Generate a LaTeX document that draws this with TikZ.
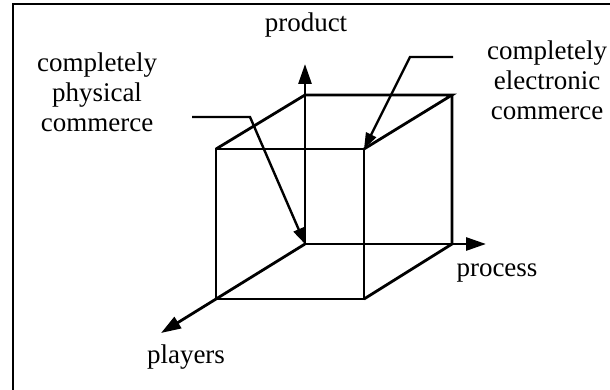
\documentclass[tikz,border=0pt]{standalone}
\usepackage{fontspec}
\setmainfont{Liberation Serif}
\usetikzlibrary{arrows.meta}

\begin{document}
\begin{tikzpicture}[x=0.5pt, y=-0.5pt,
    edge/.style={line width=1.4pt},
    axis/.style={line width=1.4pt, -{Triangle[length=10pt, width=6.5pt]}},
    leader/.style={line width=1.2pt, -{Triangle[length=8pt, width=5.5pt]}},
    lbl/.style={font=\fontsize{13.5}{15}\selectfont, align=center, inner sep=0pt}
]
\useasboundingbox (0,0) rectangle (610,390);
\draw[edge] (13,392) |- (614,4);

% cube corners
\coordinate (o) at (305,244);
\coordinate (bbr) at (452,244);
\coordinate (btl) at (305,95);
\coordinate (btr) at (452,95);
\coordinate (fbl) at (216,299);
\coordinate (fbr) at (364,299);
\coordinate (ftl) at (216,149);
\coordinate (ftr) at (364,149);

% axis ends
\coordinate (prodend) at (305,64);
\coordinate (procend) at (486,244);
\coordinate (playend) at (161,333);

\node[lbl] (product) at (306,25) {product};
\node[lbl] (physical) at (97,92) {completely\\physical\\commerce};
\node[lbl] (electronic) at (547,80) {completely\\electronic\\commerce};
\node[lbl] (process) at (497,273) {process};
\node[lbl] (players) at (186,357) {players};

\draw[edge] (ftl) -- (ftr) -- (fbr) -- (fbl) -- cycle;
\draw[edge] (ftl) -- (btl) -- (btr) -- (ftr);
\draw[edge] (btr) -- (bbr) -- (fbr);

\draw[axis] (o) -- (prodend);
\draw[axis] (o) -- (procend);
\draw[axis] (o) -- (playend);

\coordinate (physfoot) at (192,117);
\coordinate (elecfoot) at (453,57);
\draw[leader] (physfoot) -- (250,117) -- (o);
\draw[leader] (elecfoot) -- (410,57) -- (ftr);
\end{tikzpicture}
\end{document}
